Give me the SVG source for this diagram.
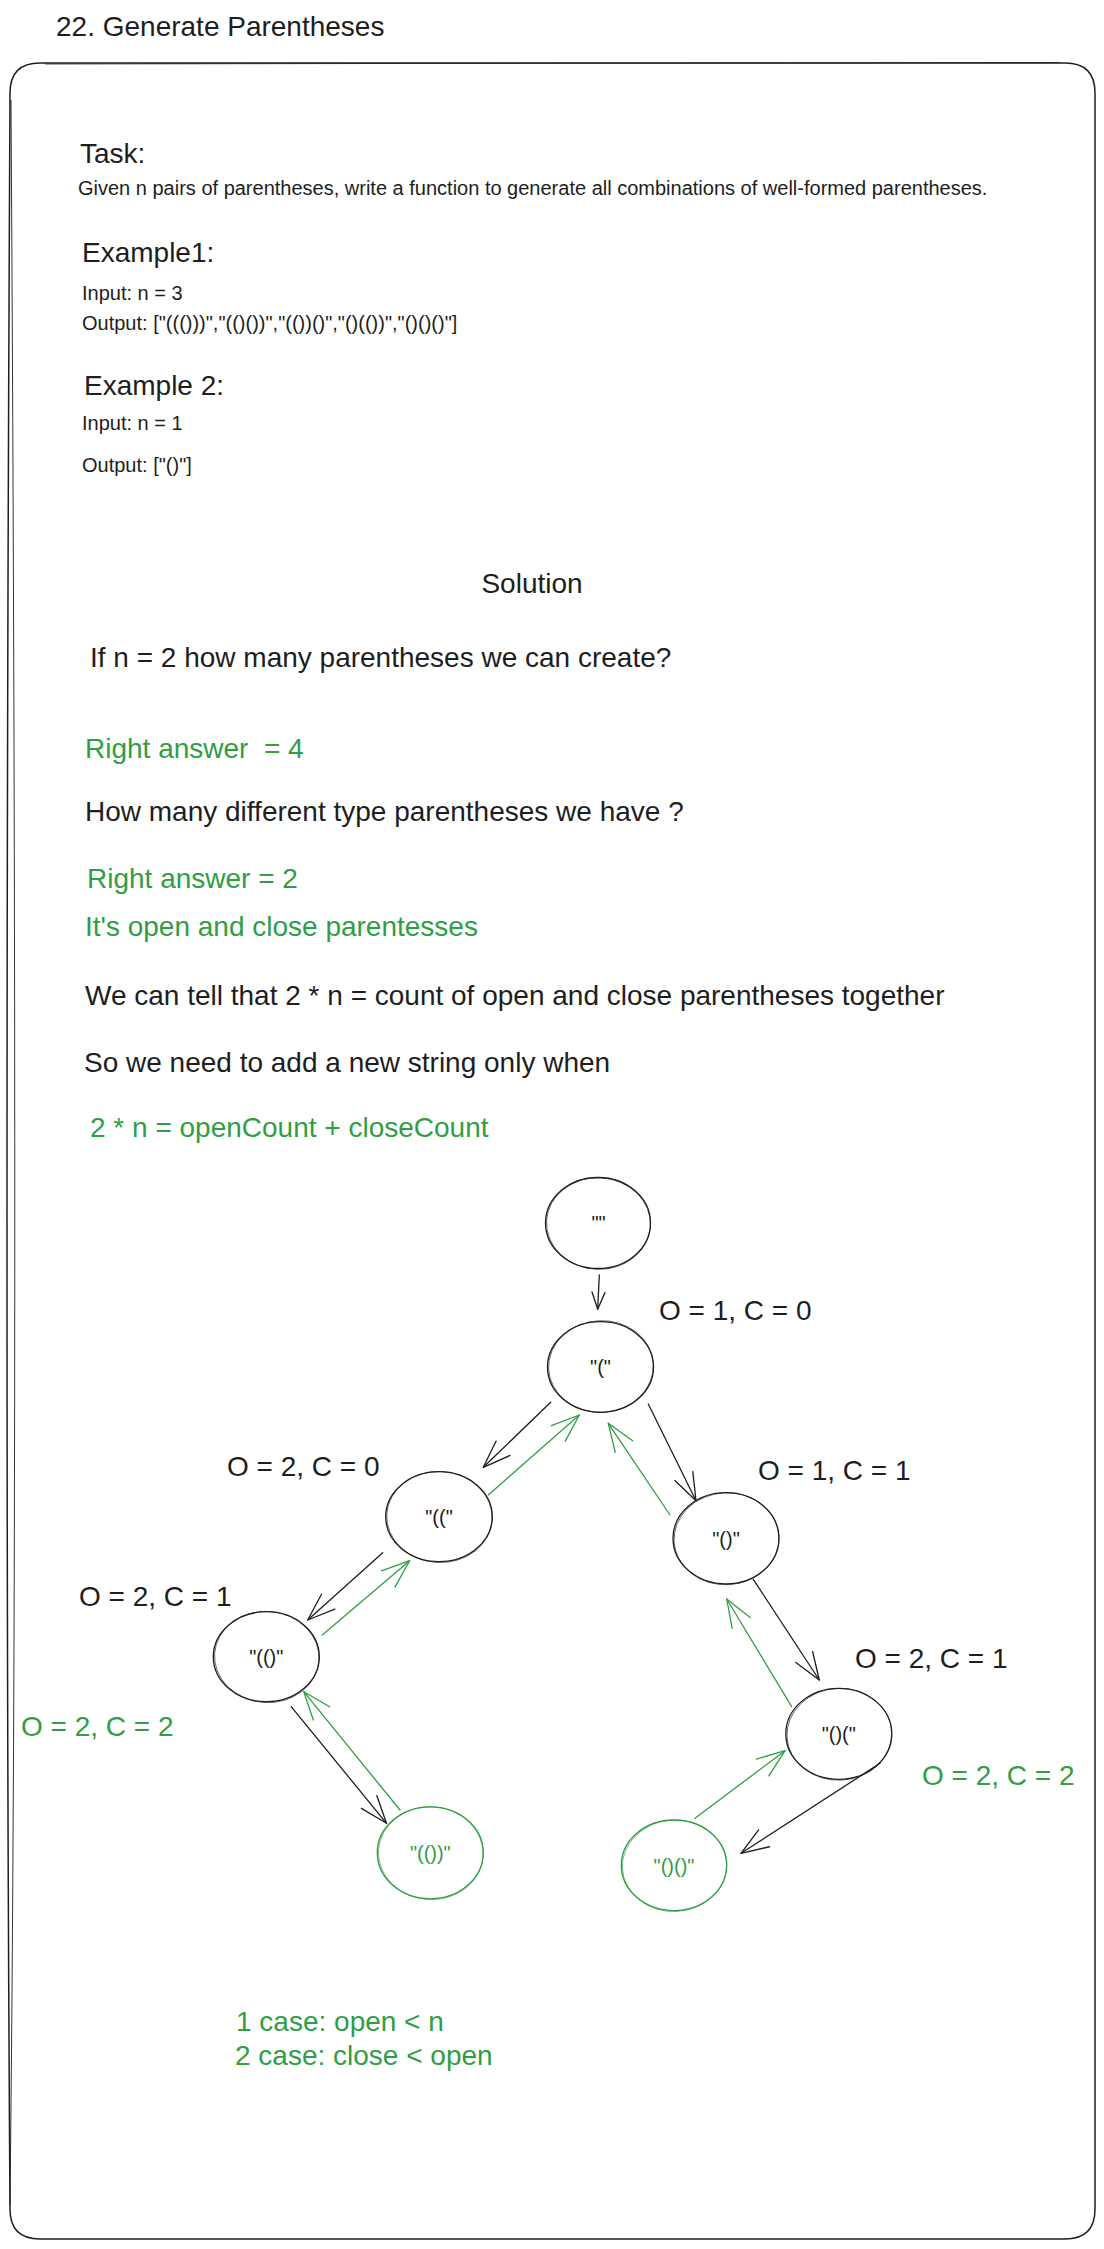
<svg xmlns="http://www.w3.org/2000/svg" width="1104" height="2249" viewBox="0 0 1104 2249">
  <defs>
    <style>
      .t { font-family: "Liberation Sans", Arial, Helvetica, sans-serif; fill: #1e1e1e; white-space: pre; }
      .g { fill: #2f9e44; }
      .f28 { font-size: 28px; }
      .f20 { font-size: 20px; }
      .node { fill: none; stroke: #1e1e1e; stroke-width: 1.3; }
      .node2 { fill: none; stroke: #1e1e1e; stroke-width: 0.8; opacity: 0.8; }
      .gnode { fill: none; stroke: #2f9e44; stroke-width: 1.3; }
      .gnode2 { fill: none; stroke: #2f9e44; stroke-width: 0.8; opacity: 0.8; }
      .nt { font-family: "Liberation Sans", Arial, Helvetica, sans-serif; font-size: 20px; fill: #1e1e1e; text-anchor: middle; }
      .ngt { fill: #2f9e44; }
      .ab { fill: none; stroke: #1e1e1e; stroke-width: 1.3; stroke-linecap: round; }
      .ag { fill: none; stroke: #2f9e44; stroke-width: 1.3; stroke-linecap: round; }
      .frame { fill: none; stroke: #1e1e1e; stroke-width: 1.5; }
    </style>
    <marker id="hb" viewBox="-32 -16 34 32" markerWidth="34" markerHeight="32" refX="0" refY="0" orient="auto" markerUnits="userSpaceOnUse" overflow="visible">
      <path d="M -27.5 -10 L 0 0 L -27.5 10" fill="none" stroke="#1e1e1e" stroke-width="1.3" stroke-linecap="round" stroke-linejoin="round"/>
    </marker>
    <marker id="hbs" viewBox="-20 -10 22 20" markerWidth="22" markerHeight="20" refX="0" refY="0" orient="auto" markerUnits="userSpaceOnUse" overflow="visible">
      <path d="M -17 -6.5 L 0 0 L -17 6.5" fill="none" stroke="#1e1e1e" stroke-width="1.3" stroke-linecap="round" stroke-linejoin="round"/>
    </marker>
    <marker id="hg" viewBox="-32 -16 34 32" markerWidth="34" markerHeight="32" refX="0" refY="0" orient="auto" markerUnits="userSpaceOnUse" overflow="visible">
      <path d="M -28 -10.5 L 0 0 L -28 10.5" fill="none" stroke="#2f9e44" stroke-width="1.3" stroke-linecap="round" stroke-linejoin="round"/>
    </marker>
  </defs>

  <rect x="0" y="0" width="1104" height="2249" fill="#ffffff"/>

  <!-- Title -->
  <text class="t f28" x="56" y="36">22. Generate Parentheses</text>

  <!-- Frame -->
  <g id="frame">
    <path class="frame" d="M 40 63 L 1065 63 Q 1095 63 1095 93 L 1095 2209 Q 1095 2239 1065 2239 L 40 2239 Q 10 2239 10 2209 Q 4 1300 10 93 Q 10 63 40 63 Z"/>
    <path fill="none" stroke="#1e1e1e" stroke-width="0.9" d="M 11 100 Q 19 1400 10 2205"/>
    <path fill="none" stroke="#1e1e1e" stroke-width="0.8" d="M 45 64 L 1060 62.5"/>
  </g>

  <!-- Task text -->
  <g id="task">
    <text class="t f28" x="80" y="163">Task:</text>
    <text class="t f20" x="78" y="195">Given n pairs of parentheses, write a function to generate all combinations of well-formed parentheses.</text>
    <text class="t f28" x="82" y="262">Example1:</text>
    <text class="t f20" x="82" y="300">Input: n = 3</text>
    <text class="t f20" x="82" y="330">Output: ["((()))","(()())","(())()","()(())","()()()"]</text>
    <text class="t f28" x="84" y="395">Example 2:</text>
    <text class="t f20" x="82" y="430">Input: n = 1</text>
    <text class="t f20" x="82" y="472">Output: ["()"]</text>
  </g>

  <!-- Solution text -->
  <g id="solution">
    <text class="t f28" x="532" y="593" text-anchor="middle">Solution</text>
    <text class="t f28" x="90" y="667">If n = 2 how many parentheses we can create?</text>
    <text class="t f28 g" x="85" y="758">Right answer  = 4</text>
    <text class="t f28" x="85" y="821">How many different type parentheses we have ?</text>
    <text class="t f28 g" x="87" y="888">Right answer = 2</text>
    <text class="t f28 g" x="85" y="936">It's open and close parentesses</text>
    <text class="t f28" x="85" y="1005">We can tell that 2 * n = count of open and close parentheses together</text>
    <text class="t f28" x="84" y="1072">So we need to add a new string only when</text>
    <text class="t f28 g" x="90" y="1137">2 * n = openCount + closeCount</text>
  </g>

  <!-- Connectors -->
  <g id="connectors">
    <line class="ab" x1="599.3" y1="1275" x2="597.7" y2="1309.3" marker-end="url(#hbs)"/>
    <line class="ab" x1="550.7" y1="1402.3" x2="483.3" y2="1467.3" marker-end="url(#hb)"/>
    <line class="ag" x1="488.3" y1="1495" x2="579.3" y2="1415" marker-end="url(#hg)"/>
    <line class="ab" x1="648.3" y1="1404" x2="696" y2="1500.7" marker-end="url(#hb)"/>
    <line class="ag" x1="670" y1="1515" x2="608.3" y2="1423.3" marker-end="url(#hg)"/>
    <line class="ab" x1="382.7" y1="1552.7" x2="307.7" y2="1620" marker-end="url(#hb)"/>
    <line class="ag" x1="322.3" y1="1635" x2="409.6" y2="1560.7" marker-end="url(#hg)"/>
    <line class="ab" x1="291.2" y1="1706.7" x2="386.5" y2="1823.3" marker-end="url(#hb)"/>
    <line class="ag" x1="400" y1="1810" x2="303.8" y2="1691.7" marker-end="url(#hg)"/>
    <line class="ab" x1="753.3" y1="1579.3" x2="819.3" y2="1680" marker-end="url(#hb)"/>
    <line class="ag" x1="791.7" y1="1706.7" x2="726.7" y2="1599" marker-end="url(#hg)"/>
    <line class="ab" x1="880" y1="1763.3" x2="741" y2="1853.3" marker-end="url(#hb)"/>
    <line class="ag" x1="695" y1="1818.3" x2="785" y2="1750.7" marker-end="url(#hg)"/>
  </g>

  <!-- Nodes -->
  <g id="node-empty">
    <ellipse class="node" cx="598" cy="1223" rx="52.5" ry="45.5"/>
    <ellipse class="node2" cx="598.5" cy="1223.5" rx="52" ry="45.8" transform="rotate(3 598 1223)"/>
    <text class="nt" x="598.5" y="1230">""</text>
  </g>
  <g id="node-o">
    <ellipse class="node" cx="600.5" cy="1367" rx="53" ry="45.3"/>
    <ellipse class="node2" cx="601" cy="1366.5" rx="52.4" ry="45.8" transform="rotate(-3 600.5 1367)"/>
    <text class="nt" x="600.5" y="1374">"("</text>
  </g>
  <g id="node-oo">
    <ellipse class="node" cx="439" cy="1516.7" rx="53.3" ry="45"/>
    <ellipse class="node2" cx="439.5" cy="1517" rx="52.8" ry="45.5" transform="rotate(3 439 1516.7)"/>
    <text class="nt" x="439" y="1524">"(("</text>
  </g>
  <g id="node-oc">
    <ellipse class="node" cx="726" cy="1538.3" rx="53" ry="45.7"/>
    <ellipse class="node2" cx="726.5" cy="1538.8" rx="52.5" ry="46" transform="rotate(-3 726 1538.3)"/>
    <text class="nt" x="726" y="1545.5">"()"</text>
  </g>
  <g id="node-ooc">
    <ellipse class="node" cx="266.3" cy="1656.7" rx="53" ry="45"/>
    <ellipse class="node2" cx="266.8" cy="1657" rx="52.3" ry="45.6" transform="rotate(4 266.3 1656.7)"/>
    <text class="nt" x="266.3" y="1664">"(()"</text>
  </g>
  <g id="node-oco">
    <ellipse class="node" cx="838.8" cy="1733.8" rx="53" ry="45.5"/>
    <ellipse class="node2" cx="839.3" cy="1734.3" rx="52.4" ry="45.9" transform="rotate(-3 838.8 1733.8)"/>
    <text class="nt" x="838.8" y="1741">"()("</text>
  </g>
  <g id="node-oocc">
    <ellipse class="gnode" cx="430.3" cy="1852.8" rx="53" ry="46"/>
    <ellipse class="gnode2" cx="430.8" cy="1853.2" rx="52.4" ry="46.4" transform="rotate(3 430.3 1852.8)"/>
    <text class="nt ngt" x="430.3" y="1860">"(())"</text>
  </g>
  <g id="node-ococ">
    <ellipse class="gnode" cx="674" cy="1865.3" rx="52.7" ry="45.3"/>
    <ellipse class="gnode2" cx="674.5" cy="1865.8" rx="52.2" ry="45.8" transform="rotate(-3 674 1865.3)"/>
    <text class="nt ngt" x="674" y="1872.5">"()()"</text>
  </g>

  <!-- Count labels -->
  <g id="labels">
    <text class="t f28" x="659" y="1320">O = 1, C = 0</text>
    <text class="t f28" x="227" y="1476">O = 2, C = 0</text>
    <text class="t f28" x="758" y="1480">O = 1, C = 1</text>
    <text class="t f28" x="79" y="1606">O = 2, C = 1</text>
    <text class="t f28" x="855" y="1668">O = 2, C = 1</text>
    <text class="t f28 g" x="21" y="1736">O = 2, C = 2</text>
    <text class="t f28 g" x="922" y="1785">O = 2, C = 2</text>
    <text class="t f28 g" x="236" y="2031">1 case: open &lt; n</text>
    <text class="t f28 g" x="235" y="2065">2 case: close &lt; open</text>
  </g>
</svg>
